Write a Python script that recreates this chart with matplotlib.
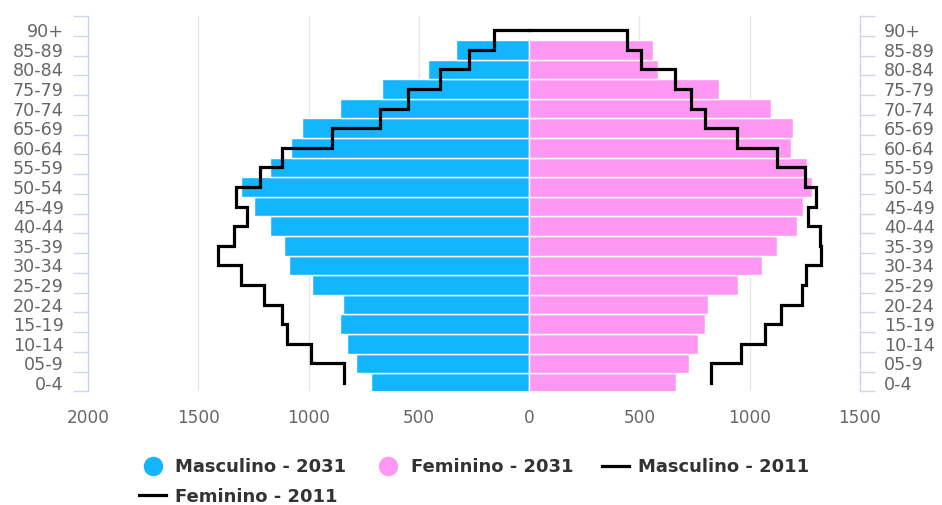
import numpy as np
import matplotlib
matplotlib.use('Agg')
import matplotlib.pyplot as plt
from matplotlib.lines import Line2D

categories = ['0-4', '05-9', '10-14', '15-19', '20-24', '25-29', '30-34', '35-39',
              '40-44', '45-49', '50-54', '55-59', '60-64', '65-69', '70-74', '75-79',
              '80-84', '85-89', '90+']
male_2031 = [718, 783, 827, 858, 842, 986, 1087, 1111, 1175, 1248, 1308, 1175, 1081,
             1028, 858, 669, 457, 333, 0]
female_2031 = [666, 723, 767, 796, 811, 948, 1057, 1122, 1216, 1240, 1282, 1261, 1189,
               1194, 1095, 862, 584, 563, 0]
male_2011 = [841, 990, 1099, 1119, 1202, 1305, 1411, 1338, 1281, 1330, 1220, 1119, 892,
             678, 549, 404, 273, 160, 0]
female_2011 = [824, 959, 1069, 1140, 1236, 1253, 1322, 1318, 1265, 1299, 1252, 1125, 944,
               797, 735, 660, 505, 445, 0]
x_ticks = [-2000, -1500, -1000, -500, 0, 500, 1000, 1500]
x_tick_labels = ['2000', '1500', '1000', '500', '0', '500', '1000', '1500']
series_names = ['Masculino - 2031', 'Feminino - 2031', 'Masculino - 2011', 'Feminino - 2011']

BLUE = '#13B5FE'
PINK = '#FF98F2'
AXIS_C = '#ccd6eb'
GRID_C = '#e6e6e6'
LABEL_C = '#666666'

W, H = 942, 505
fig = plt.figure(figsize=(W / 100, H / 100), dpi=100)
ax_l, ax_r, ax_t, ax_b = 88, 860, 16, 391.3
ax = fig.add_axes([ax_l / W, 1 - ax_b / H, (ax_r - ax_l) / W, (ax_b - ax_t) / H])

y = np.arange(len(categories))
ax.barh(y, -np.array(male_2031), height=1.0, color=BLUE, edgecolor='white',
        linewidth=1.0, zorder=2)
ax.barh(y, np.array(female_2031), height=1.0, color=PINK, edgecolor='white',
        linewidth=1.0, zorder=2)
ax.step(-np.array(male_2011), y, where='pre', color='black', lw=2.3, zorder=3,
        solid_joinstyle='miter')
ax.step(np.array(female_2011), y, where='pre', color='black', lw=2.3, zorder=3,
        solid_joinstyle='miter')

ylim = (-0.423, 18.72)
ax.set_xlim(-2000, 1500)
ax.set_ylim(*ylim)

# x axis
ax.set_xticks(x_ticks)
ax.set_xticklabels(x_tick_labels)
ax.tick_params(axis='x', length=0, pad=13, labelsize=12.2, labelcolor=LABEL_C)
ax.xaxis.grid(True, color=GRID_C, lw=1.0, zorder=0)
ax.set_axisbelow(True)
for t, gl in zip(x_ticks, ax.get_xgridlines()):
    if t == 0:
        gl.set_visible(False)

# y axis (both sides)
ax.set_yticks(y)
ax.set_yticklabels(categories)
ax.set_yticks(np.linspace(ylim[0], ylim[1], len(categories) + 1), minor=True)
ax.tick_params(axis='y', which='major', length=0, pad=17.3, labelsize=12.6,
               labelcolor=LABEL_C, left=True, right=True, labelleft=True, labelright=True)
ax.tick_params(axis='y', which='minor', length=10.8, width=1.0, color=AXIS_C,
               direction='out', left=True, right=True)

for s in ['top', 'bottom']:
    ax.spines[s].set_visible(False)
for s in ['left', 'right']:
    ax.spines[s].set_color(AXIS_C)
    ax.spines[s].set_linewidth(1.0)

# legend
h_m31 = Line2D([], [], marker='o', ls='none', markersize=13, color=BLUE)
h_f31 = Line2D([], [], marker='o', ls='none', markersize=13, color=PINK)
h_m11 = Line2D([], [], color='black', lw=2.3)
h_f11 = Line2D([], [], color='black', lw=2.3)
leg = fig.legend([h_m31, h_f11, h_f31, h_m11],
                 [series_names[0], series_names[3], series_names[1], series_names[2]],
                 ncol=3, loc='center', bbox_to_anchor=(474 / W, 1 - 482 / H),
                 bbox_transform=fig.transFigure, frameon=False,
                 prop={'weight': 'bold', 'size': 13}, handlelength=1.5,
                 handletextpad=0.5, columnspacing=1.57, labelspacing=0.62,
                 borderpad=0, labelcolor='#333333')

fig.savefig('out.png', dpi=100)
